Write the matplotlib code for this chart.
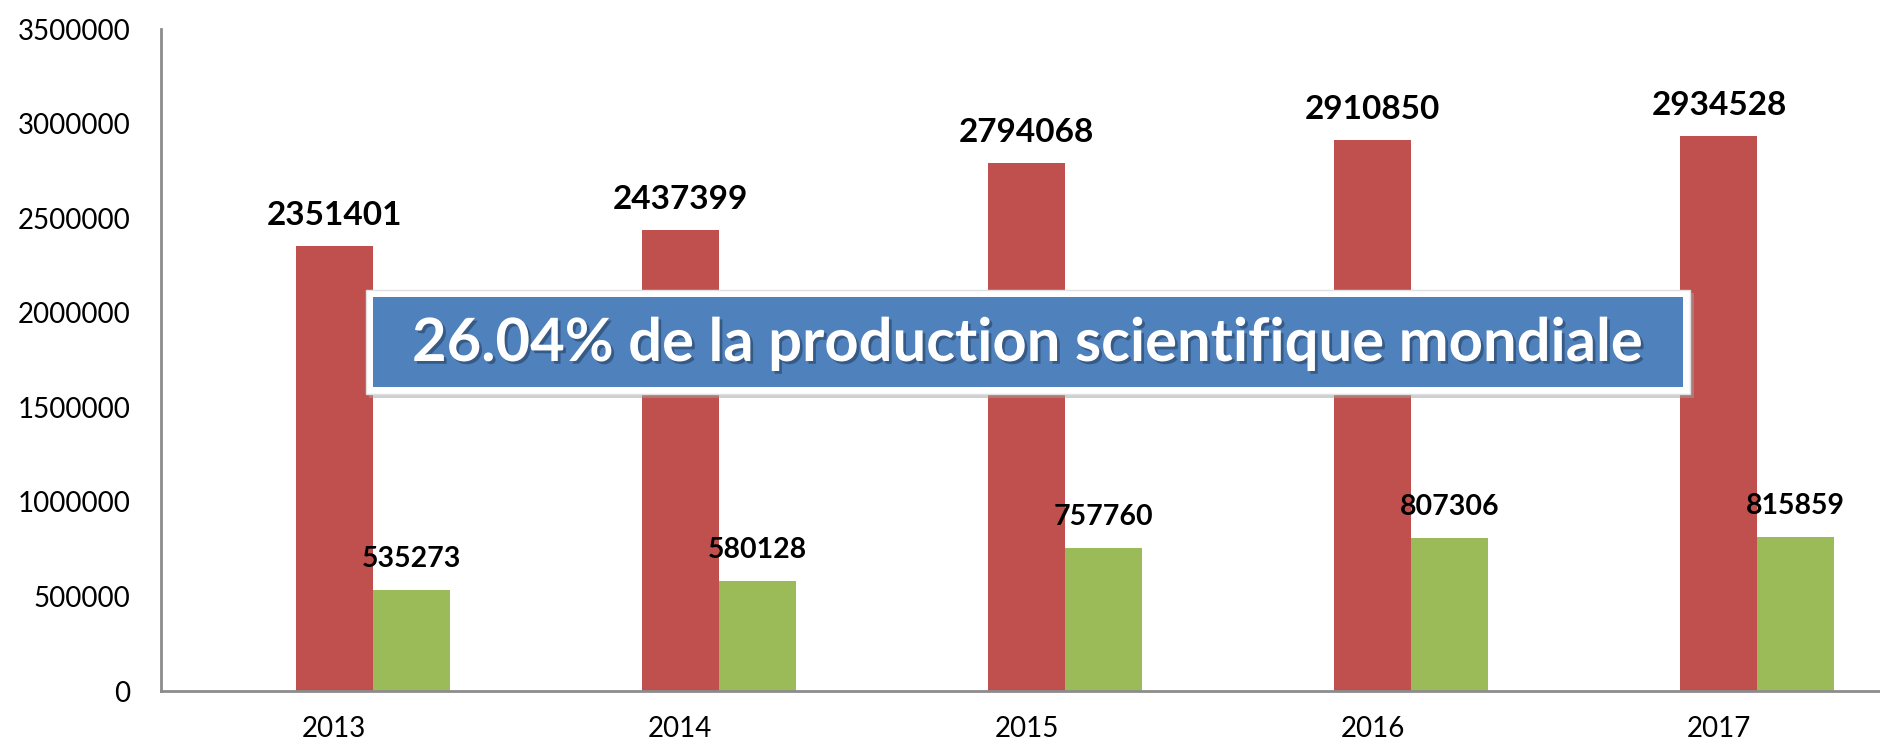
import numpy as np
import matplotlib.pyplot as plt
import matplotlib.patheffects as pe
from matplotlib.patches import Rectangle

years = ['2013', '2014', '2015', '2016', '2017']
world_total = [2351401, 2437399, 2794068, 2910850, 2934528]
region_total = [535273, 580128, 757760, 807306, 815859]
banner_text = '26.04% de la production scientifique mondiale'

plt.rcParams['font.family'] = ['Lato', 'DejaVu Sans']

fig = plt.figure(figsize=(18.8, 7.45), dpi=100)
# plot area runs a little past the right edge, as in the source chart
ax = fig.add_axes([161 / 1880, 1 - 691 / 745, 1731 / 1880, (691 - 29) / 745])

x = np.arange(len(years)) + 0.5
w = 1 / 4.5  # excel-style gap width 150%, three slots per category
red_bars = ax.bar(x, world_total, w, color='#C0504D', zorder=2)
green_bars = ax.bar(x + w, region_total, w, color='#9BBB59', zorder=2)

for b, v in zip(red_bars, world_total):
    ax.annotate(str(v), (b.get_x() + b.get_width() / 2, v), xytext=(0, 16),
                textcoords='offset pixels', ha='center', va='bottom',
                fontsize=24, fontweight='bold')
for b, v in zip(green_bars, region_total):
    ax.annotate(str(v), (b.get_x() + b.get_width() / 2, v), xytext=(0, 18),
                textcoords='offset pixels', ha='center', va='bottom',
                fontsize=20.5, fontweight='bold')

ax.set_xlim(0, 5)
ax.set_ylim(0, 3500000)
ax.set_yticks(np.arange(0, 3500001, 500000))
ax.set_yticklabels([str(v) for v in range(0, 3500001, 500000)])
ax.set_xticks(x)
ax.set_xticklabels(years)
ax.tick_params(axis='y', length=0, pad=22, labelsize=20)
ax.tick_params(axis='x', length=0, pad=18, labelsize=20)
for s in ['top', 'right']:
    ax.spines[s].set_visible(False)
for s in ['left', 'bottom']:
    ax.spines[s].set_color('#8c8c8c')
    ax.spines[s].set_linewidth(2)

# banner box (figure pixel coords)
W, H = 1880, 745
def fbox(x0, y0, x1, y1, **kw):
    r = Rectangle((x0 / W, 1 - y1 / H), (x1 - x0) / W, (y1 - y0) / H,
                  transform=fig.transFigure, **kw)
    fig.add_artist(r)

fbox(369, 293, 1694, 398, facecolor='#a0a0a0', edgecolor='none', alpha=0.5, zorder=5)
fbox(366, 290, 1690, 394, facecolor='white', edgecolor='#e0e0e0', linewidth=1, zorder=6)
fbox(373, 297, 1683, 387, facecolor='#4F81BD', edgecolor='none', zorder=7)
fig.text((373 + 1683) / 2 / W, 1 - 344 / H, banner_text, ha='center', va='center',
         color='white', fontsize=43, fontweight='bold', zorder=8,
         path_effects=[pe.withSimplePatchShadow(offset=(2, -2), shadow_rgbFace='#1f3550', alpha=0.5)])

fig.savefig('out.png', dpi=100)
